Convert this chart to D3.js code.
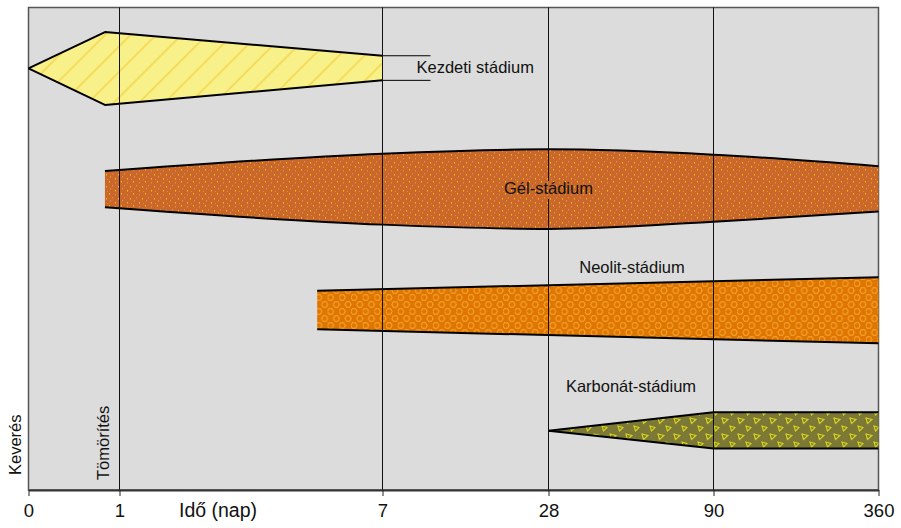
<!DOCTYPE html>
<html>
<head>
<meta charset="utf-8">
<script src="https://cdn.jsdelivr.net/npm/d3@7/dist/d3.min.js"></script>
<style>
  html, body { margin: 0; padding: 0; background: #ffffff; }
  svg { display: block; font-family: "Liberation Sans", Arial, sans-serif; }
</style>
</head>
<body>
<svg id="chart" width="901" height="528"></svg>
<script>
// ---- Data ----
const tickDays = [0, 1, 7, 28, 90, 360];
const tickLabels = ["0", "1", "7", "28", "90", "360"];
const gridDays = [1, 7, 28, 90];

// Stage envelopes: time (days) and upper/lower level (0-100 arbitrary units)
const kezdetiDays = [0, 0.84, 7];
const kezdetiTop = [87.4, 94.9, 90.0];
const kezdetiBottom = [87.4, 79.8, 84.9];

const gelDays = [0.84, 7, 28, 90, 360];
const gelTop = [66.1, 69.7, 70.6, 69.5, 67.1];
const gelBottom = [58.6, 55.0, 54.1, 55.6, 57.7];

const neolitDays = [5.51, 360];
const neolitTop = [41.3, 44.1];
const neolitBottom = [33.3, 30.4];

const karbonatDays = [28, 90, 360];
const karbonatTop = [12.3, 16.1, 16.1];
const karbonatBottom = [12.3, 8.6, 8.6];

const stageNames = ["Kezdeti stádium", "Gél-stádium", "Neolit-stádium", "Karbonát-stádium"];
const sideLabels = ["Keverés", "Tömörítés"];
const axisTitle = "Idő (nap)";

// ---- Layout ----
const svg = d3.select("#chart");
const pLeft = 28.5, pRight = 878.5, pTop = 7.5, pBottom = 490;

const x = d3.scaleLinear()
  .domain(tickDays)
  .range([28.5, 119.5, 382.5, 548.5, 713.5, 878.5]);
const y = d3.scaleLinear().domain([0, 100]).range([pBottom, pTop]);

// ---- Patterns ----
const defs = svg.append("defs");

const pY = defs.append("pattern").attr("id", "pYellow")
  .attr("patternUnits", "userSpaceOnUse").attr("width", 18).attr("height", 18)
  .attr("patternTransform", "rotate(45)");
pY.append("rect").attr("width", 18).attr("height", 18).attr("fill", "#f8f088");
pY.append("line").attr("x1", 9).attr("y1", 0).attr("x2", 9).attr("y2", 18)
  .attr("stroke", "#f4d03c").attr("stroke-width", 1.2);

const pG = defs.append("pattern").attr("id", "pGel")
  .attr("patternUnits", "userSpaceOnUse").attr("width", 12).attr("height", 12);
pG.append("rect").attr("width", 12).attr("height", 12).attr("fill", "#c9682a");
[[1,1,"#f2c200"],[7,2,"#e08a42"],[4,5,"#e08a42"],[10,6,"#f2c200"],[2,8,"#e39048"],[7,10,"#f2c200"],[11,11,"#e08a42"]]
  .forEach(d => pG.append("rect").attr("x", d[0]).attr("y", d[1]).attr("width", 1).attr("height", 1.5).attr("fill", d[2]));

const pN = defs.append("pattern").attr("id", "pNeolit")
  .attr("patternUnits", "userSpaceOnUse").attr("width", 11.7).attr("height", 14);
pN.append("rect").attr("width", 11.7).attr("height", 14).attr("fill", "#df7600");
function hexPath(cx, cy, r) {
  const pts = d3.range(6).map(i => {
    const a = Math.PI / 3 * i;
    return [cx + r * Math.cos(a), cy + r * Math.sin(a)];
  });
  return "M" + pts.map(p => p.join(",")).join("L") + "Z";
}
[[2.9, 3.5], [8.8, 10.5], [-2.95, 10.5], [14.6, 10.5], [2.9, 17.5], [8.8, -3.5]].forEach(c =>
  pN.append("path").attr("d", hexPath(c[0], c[1], 3.1))
    .attr("fill", "none").attr("stroke", "#f7a535").attr("stroke-width", 1));

const pK = defs.append("pattern").attr("id", "pKarb")
  .attr("patternUnits", "userSpaceOnUse").attr("width", 16).attr("height", 16);
pK.append("rect").attr("width", 16).attr("height", 16).attr("fill", "#7b7935");
pK.append("path").attr("d", "M2,2 L8,3.5 L3.5,7.5 Z")
  .attr("fill", "none").attr("stroke", "#dcd41c").attr("stroke-width", 1.1);
pK.append("path").attr("d", "M10,10 L15,11.5 L11.5,15 Z")
  .attr("fill", "none").attr("stroke", "#dcd41c").attr("stroke-width", 1.1);

// ---- Frame ----
svg.append("rect")
  .attr("x", pLeft).attr("y", pTop).attr("width", pRight - pLeft).attr("height", pBottom - pTop)
  .attr("fill", "#dcdcdc").attr("stroke", "#555").attr("stroke-width", 1.5);

// ---- Stages ----
function drawStage(days, tops, bots, fillId, curve) {
  const pts = days.map((d, i) => ({ d, t: tops[i], b: bots[i] }));
  const area = d3.area().x(p => x(p.d)).y0(p => y(p.b)).y1(p => y(p.t)).curve(curve);
  svg.append("path").datum(pts).attr("d", area).attr("fill", `url(#${fillId})`);
  const lt = d3.line().x(p => x(p.d)).y(p => y(p.t)).curve(curve);
  const lb = d3.line().x(p => x(p.d)).y(p => y(p.b)).curve(curve);
  [lt, lb].forEach(l => svg.append("path").datum(pts).attr("d", l)
    .attr("fill", "none").attr("stroke", "#000").attr("stroke-width", 2)
    .attr("stroke-linejoin", "round"));
}
drawStage(kezdetiDays, kezdetiTop, kezdetiBottom, "pYellow", d3.curveLinear);
drawStage(gelDays, gelTop, gelBottom, "pGel", d3.curveMonotoneX);
drawStage(neolitDays, neolitTop, neolitBottom, "pNeolit", d3.curveLinear);
drawStage(karbonatDays, karbonatTop, karbonatBottom, "pKarb", d3.curveLinear);

// leader lines for Kezdeti
const kLast = kezdetiDays.length - 1;
[kezdetiTop[kLast], kezdetiBottom[kLast]].forEach(v =>
  svg.append("line").attr("x1", x(7)).attr("x2", x(7) + 48)
    .attr("y1", y(v)).attr("y2", y(v)).attr("stroke", "#000").attr("stroke-width", 1));

// ---- Grid lines ----
svg.selectAll("line.grid").data(gridDays).enter().append("line")
  .attr("class", "grid")
  .attr("x1", d => x(d)).attr("x2", d => x(d))
  .attr("y1", pTop).attr("y2", pBottom)
  .attr("stroke", "#111").attr("stroke-width", 1);

// ---- Stage labels ----
const fs = 16.5;
// Gel label background to mask grid line
svg.append("rect").attr("x", x(28) - 46).attr("y", 181).attr("width", 92).attr("height", 18)
  .attr("fill", "url(#pGel)");
svg.append("text").attr("x", x(7) + 34).attr("y", 73).attr("font-size", fs)
  .attr("fill", "#111").text(stageNames[0]);
svg.append("text").attr("x", x(28)).attr("y", 194).attr("font-size", fs).attr("text-anchor", "middle")
  .attr("fill", "#111").text(stageNames[1]);
svg.append("text").attr("x", 632).attr("y", 273).attr("font-size", fs).attr("text-anchor", "middle")
  .attr("fill", "#111").text(stageNames[2]);
svg.append("text").attr("x", 631).attr("y", 392).attr("font-size", fs).attr("text-anchor", "middle")
  .attr("fill", "#111").text(stageNames[3]);

// rotated side labels
svg.append("text").attr("transform", "translate(21,475) rotate(-90)")
  .attr("font-size", fs).attr("fill", "#111").text(sideLabels[0]);
svg.append("text").attr("transform", "translate(109,480) rotate(-90)")
  .attr("font-size", fs).attr("fill", "#111").text(sideLabels[1]);

// ---- Axis ----
const axis = d3.axisBottom(x).tickValues(tickDays)
  .tickFormat((d, i) => tickLabels[i]).tickSize(6).tickSizeOuter(0).tickPadding(8);
const gA = svg.append("g").attr("transform", `translate(0,${pBottom})`).call(axis);
gA.select(".domain").attr("stroke", "#333").attr("stroke-width", 2);
gA.selectAll(".tick line").attr("stroke", "#222").attr("stroke-width", 1);
gA.selectAll(".tick text").attr("font-size", 18.5).attr("fill", "#111")
  .attr("font-family", "Liberation Sans, Arial, sans-serif");

svg.append("text").attr("x", 179).attr("y", 517).attr("font-size", 19.5)
  .attr("fill", "#111").text(axisTitle);
</script>
</body>
</html>
